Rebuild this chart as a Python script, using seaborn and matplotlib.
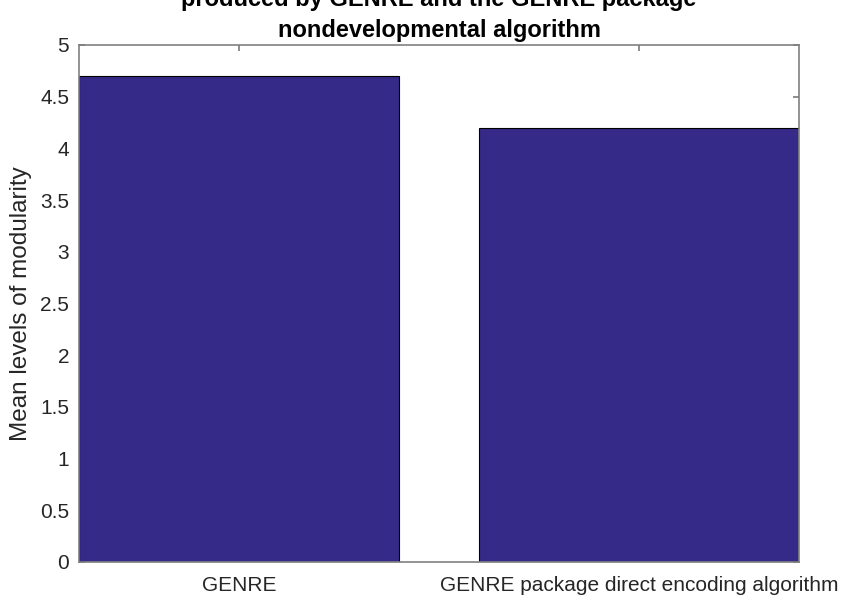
import pandas as pd
import matplotlib
matplotlib.use('Agg')
import matplotlib.pyplot as plt
import seaborn as sns

# datos
algoritmos = ['GENRE', 'GENRE package direct encoding algorithm']
modularidad = [4.7, 4.2]
titulo = 'produced by GENRE and the GENRE package\nnondevelopmental algorithm'

df = pd.DataFrame({'algoritmo': algoritmos, 'modularidad': modularidad})

sns.set_theme(style='ticks')
plt.rcParams['font.family'] = ['Liberation Sans', 'DejaVu Sans']

fig = plt.figure(figsize=(8.44, 6.08), dpi=100)
ax = fig.add_axes([0.0936, 0.0757, 0.8531, 0.8503])

sns.barplot(data=df, x='algoritmo', y='modularidad', color='#352a87',
            saturation=1, width=0.8, edgecolor='black', linewidth=0.8, ax=ax)

ax.set_xlim(-0.4, 1.4)
ax.set_ylim(0, 5)
ax.set_yticks([0, 0.5, 1, 1.5, 2, 2.5, 3, 3.5, 4, 4.5, 5])
ax.set_yticklabels(['0', '0.5', '1', '1.5', '2', '2.5', '3', '3.5', '4', '4.5', '5'])
ax.set_xlabel('')
ax.set_ylabel('Mean levels of modularity', fontsize=17.5, color='#262626', labelpad=6)
ax.tick_params(axis='both', direction='in', top=True, right=True, length=4,
               color='#808080', labelsize=15, labelcolor='#262626', pad=7)
ax.tick_params(axis='x', pad=10)
for s in ax.spines.values():
    s.set_visible(True)
    s.set_color('#808080')
    s.set_linewidth(1.2)
# la primera línea del título queda cortada por el borde, como en el original
ax.set_title(titulo, fontsize=17, fontweight='bold', color='black',
             pad=6, linespacing=1.4)

plt.savefig('out.png', dpi=100)
